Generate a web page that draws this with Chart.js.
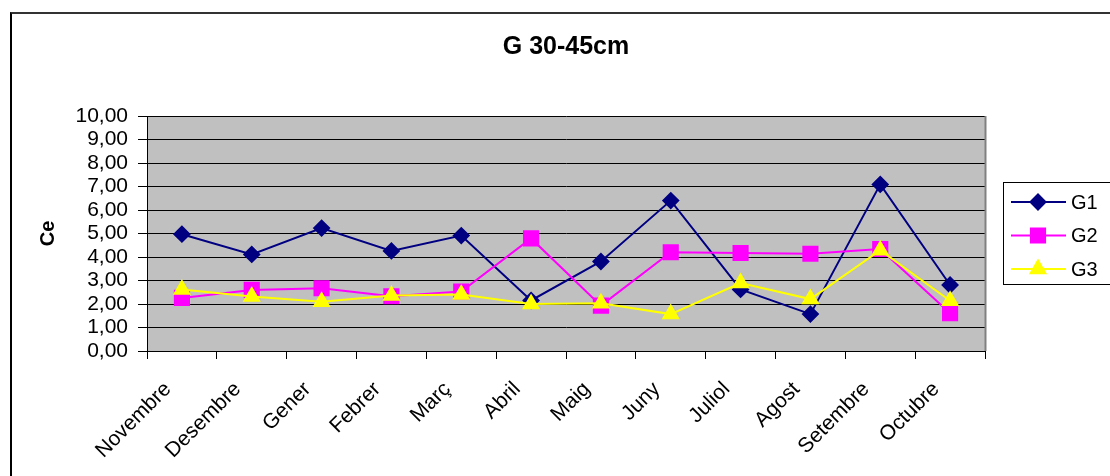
<!DOCTYPE html>
<html>
<head>
<meta charset="utf-8">
<script src="https://cdn.jsdelivr.net/npm/chart.js@4.4.0/dist/chart.umd.min.js"></script>
<style>
  html, body { margin: 0; padding: 0; background: #fff; overflow: hidden; }
  #wrap { position: relative; width: 1110px; height: 476px; }
  #frame { position: absolute; left: 10px; top: 12px; width: 1200px; height: 600px;
           border-left: 2px solid #000; border-top: 2px solid #333; box-sizing: border-box; }
  canvas { position: absolute; left: 0; top: 0; }
</style>
</head>
<body>
<div id="wrap">
  <div id="frame"></div>
  <canvas id="chart" width="1110" height="476"></canvas>
</div>
<script>
const meses = ['Novembre', 'Desembre', 'Gener', 'Febrer', 'Març', 'Abril', 'Maig', 'Juny', 'Juliol', 'Agost', 'Setembre', 'Octubre'];
const g1 = [4.97, 4.11, 5.23, 4.26, 4.91, 2.15, 3.81, 6.40, 2.62, 1.57, 7.09, 2.81];
const g2 = [2.26, 2.60, 2.67, 2.33, 2.53, 4.79, 1.93, 4.20, 4.17, 4.14, 4.34, 1.61];
const g3 = [2.62, 2.32, 2.10, 2.36, 2.40, 2.00, 2.03, 1.57, 2.89, 2.21, 4.29, 2.14];
const titulo = 'G 30-45cm';
const eixY = 'Ce';

const fonte = 'Arial, "Liberation Sans", sans-serif';

// fondo gris del área del gráfico, título y leyenda
const fonsPlugin = {
    id: 'fons',
    beforeDraw(chart) {
        const {ctx, chartArea: a} = chart;
        ctx.save();
        ctx.fillStyle = '#c0c0c0';
        ctx.fillRect(a.left, a.top, a.right - a.left, a.bottom - a.top);
        ctx.restore();
    },
    afterDatasetsDraw(chart) {
        const {ctx, chartArea: a} = chart;
        ctx.save();
        ctx.strokeStyle = '#808080';
        ctx.lineWidth = 2;
        ctx.beginPath();
        ctx.moveTo(a.right + 0.5, a.top);
        ctx.lineTo(a.right + 0.5, a.bottom);
        ctx.stroke();
        ctx.restore();
    },
    afterDraw(chart) {
        const {ctx, chartArea: a} = chart;
        ctx.save();
        ctx.fillStyle = '#000';
        ctx.font = 'bold 25px ' + fonte;
        ctx.textAlign = 'center';
        ctx.textBaseline = 'middle';
        ctx.fillText(titulo, (a.left + a.right) / 2, 47);

        ctx.strokeStyle = '#000';
        ctx.lineWidth = 1;
        ctx.strokeRect(1003.5, 182.5, 130, 102);
        ctx.font = '20px ' + fonte;
        ctx.textAlign = 'left';
        chart.data.datasets.forEach(function (ds, i) {
            const y = 202 + i * 33.5;
            ctx.strokeStyle = ds.borderColor;
            ctx.lineWidth = 2;
            ctx.beginPath();
            ctx.moveTo(1011, y);
            ctx.lineTo(1066, y);
            ctx.stroke();
            Chart.helpers.drawPoint(ctx, {
                pointStyle: ds.pointStyle,
                radius: ds.pointRadius,
                borderWidth: 1
            }, 1038, y);
            ctx.fillStyle = ds.pointBackgroundColor;
            ctx.fill();
            ctx.fillStyle = '#000';
            ctx.fillText(ds.label, 1071, y + 1);
        });
        ctx.restore();
    }
};

const ctx = document.getElementById('chart').getContext('2d');
const chart = new Chart(ctx, {
    type: 'line',
    data: {
        labels: meses,
        datasets: [
            {
                label: 'G1', data: g1, order: 2,
                borderColor: '#000080', backgroundColor: '#000080',
                pointBackgroundColor: '#000080', pointBorderColor: '#000080',
                pointStyle: 'rectRot', pointRadius: 7.5, borderWidth: 2
            },
            {
                label: 'G2', data: g2, order: 1,
                borderColor: '#ff00ff', backgroundColor: '#ff00ff',
                pointBackgroundColor: '#ff00ff', pointBorderColor: '#ff00ff',
                pointStyle: 'rect', pointRadius: 10, borderWidth: 2
            },
            {
                label: 'G3', data: g3, order: 0,
                borderColor: '#ffff00', backgroundColor: '#ffff00',
                pointBackgroundColor: '#ffff00', pointBorderColor: '#ffff00',
                pointStyle: 'triangle', pointRadius: 8.5, borderWidth: 2
            }
        ]
    },
    options: {
        responsive: false,
        animation: false,
        layout: { padding: { left: 0, top: 116, right: 125, bottom: 0 } },
        plugins: {
            legend: { display: false },
            title: { display: false },
            tooltip: { enabled: false }
        },
        scales: {
            x: {
                offset: true,
                grid: {
                    offset: true,
                    drawOnChartArea: false,
                    color: '#000',
                    tickLength: 8
                },
                border: { color: '#000', width: 1 },
                ticks: {
                    color: '#000',
                    font: { family: fonte, size: 21 },
                    maxRotation: 45,
                    minRotation: 45,
                    autoSkip: false,
                    labelOffset: -14,
                    padding: 18
                },
                afterFit(scale) { scale.height = 125; }
            },
            y: {
                min: 0,
                max: 10,
                grid: { color: '#000', tickLength: 9 },
                border: { color: '#000', width: 1 },
                ticks: {
                    stepSize: 1,
                    autoSkip: false,
                    color: '#000',
                    padding: 10,
                    font: { family: fonte, size: 21 },
                    callback: function (v) { return v.toFixed(2).replace('.', ','); }
                },
                title: {
                    display: true,
                    text: eixY,
                    color: '#000',
                    font: { family: fonte, size: 20, weight: 'bold' },
                    padding: { top: 36, bottom: 0 }
                },
                afterFit(scale) { scale.width = 147; }
            }
        }
    },
    plugins: [fonsPlugin]
});
</script>
</body>
</html>
